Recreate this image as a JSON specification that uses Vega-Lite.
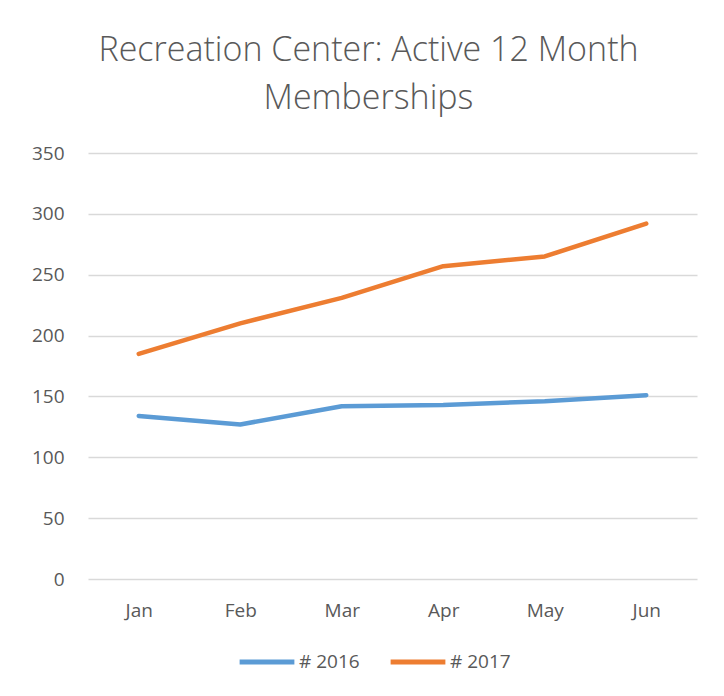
{
  "$schema": "https://vega.github.io/schema/vega-lite/v6.json",
  "width": 609,
  "height": 426,
  "autosize": {"type": "none"},
  "padding": {"left": 88, "top": 153, "right": 27, "bottom": 117},
  "background": "white",
  "title": {
    "text": ["Recreation Center: Active 12 Month", "Memberships"],
    "fontSize": 34,
    "font": "Open Sans",
    "fontWeight": 300,
    "color": "#595959",
    "anchor": "middle",
    "dx": -24,
    "offset": 28,
    "lineHeight": 48
  },
  "data": {
    "values": [
      {"month": "Jan", "series": "# 2016", "value": 134},
      {"month": "Feb", "series": "# 2016", "value": 127},
      {"month": "Mar", "series": "# 2016", "value": 142},
      {"month": "Apr", "series": "# 2016", "value": 143},
      {"month": "May", "series": "# 2016", "value": 146},
      {"month": "Jun", "series": "# 2016", "value": 151},
      {"month": "Jan", "series": "# 2017", "value": 185},
      {"month": "Feb", "series": "# 2017", "value": 210},
      {"month": "Mar", "series": "# 2017", "value": 231},
      {"month": "Apr", "series": "# 2017", "value": 257},
      {"month": "May", "series": "# 2017", "value": 265},
      {"month": "Jun", "series": "# 2017", "value": 292}
    ]
  },
  "mark": {"type": "line", "strokeWidth": 4.5, "strokeCap": "round", "strokeJoin": "round"},
  "encoding": {
    "x": {
      "field": "month",
      "type": "nominal",
      "sort": ["Jan", "Feb", "Mar", "Apr", "May", "Jun"],
      "scale": {"type": "point", "padding": 0.5},
      "axis": {
        "title": null,
        "labelAngle": 0,
        "domain": false,
        "ticks": false,
        "grid": false,
        "labelFont": "Open Sans",
        "labelFontSize": 19,
        "labelColor": "#595959",
        "labelPadding": 22
      }
    },
    "y": {
      "field": "value",
      "type": "quantitative",
      "scale": {"domain": [0, 350]},
      "axis": {
        "title": null,
        "values": [0, 50, 100, 150, 200, 250, 300, 350],
        "domain": false,
        "ticks": false,
        "gridColor": "#D9D9D9",
        "gridWidth": 1.5,
        "labelFont": "Open Sans",
        "labelFontSize": 19,
        "labelColor": "#595959",
        "labelPadding": 24
      }
    },
    "color": {
      "field": "series",
      "type": "nominal",
      "scale": {"domain": ["# 2016", "# 2017"], "range": ["#5B9BD5", "#ED7D31"]},
      "legend": {
        "title": null,
        "orient": "none",
        "direction": "horizontal",
        "legendX": 149,
        "legendY": 479,
        "symbolType": "stroke",
        "symbolSize": 3000,
        "symbolStrokeWidth": 5,
        "labelFont": "Open Sans",
        "labelFontSize": 19,
        "labelColor": "#595959",
        "labelOffset": 2,
        "columnPadding": 20
      }
    }
  },
  "config": {"view": {"stroke": null}}
}
